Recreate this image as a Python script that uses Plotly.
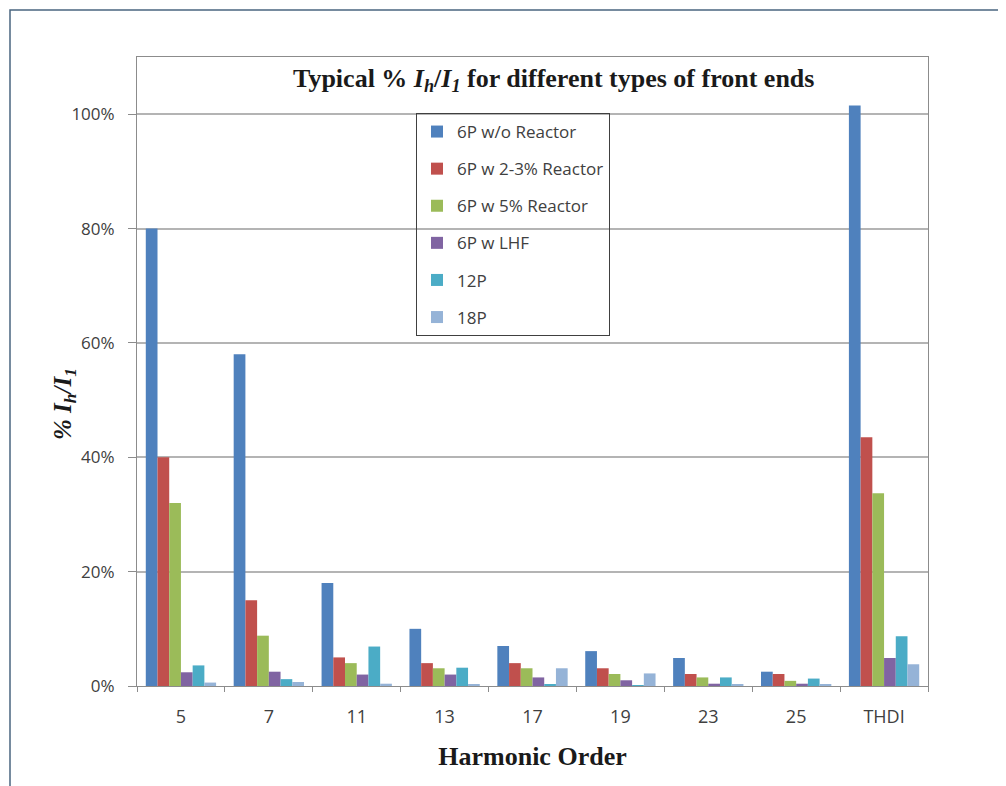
import plotly.graph_objects as go

categories = ["5", "7", "11", "13", "17", "19", "23", "25", "THDI"]
series_names = ["6P w/o Reactor", "6P w 2-3% Reactor", "6P w 5% Reactor",
                "6P w LHF", "12P", "18P"]
s_6p_noreactor = [80.0, 58.0, 18.0, 10.0, 7.0, 6.1, 4.9, 2.5, 101.5]
s_6p_23reactor = [40.0, 15.0, 5.0, 4.0, 4.0, 3.1, 2.1, 2.1, 43.5]
s_6p_5reactor = [32.0, 8.8, 4.0, 3.1, 3.1, 2.1, 1.5, 0.9, 33.7]
s_6p_lhf = [2.4, 2.5, 2.0, 2.0, 1.5, 1.0, 0.4, 0.4, 4.9]
s_12p = [3.6, 1.2, 6.9, 3.2, 0.3, 0.1, 1.5, 1.3, 8.7]
s_18p = [0.6, 0.7, 0.4, 0.3, 3.1, 2.2, 0.3, 0.2, 3.8]
y_ticks = [0, 20, 40, 60, 80, 100]
y_tick_labels = ["0%", "20%", "40%", "60%", "80%", "100%"]

series_values = [s_6p_noreactor, s_6p_23reactor, s_6p_5reactor, s_6p_lhf, s_12p, s_18p]
colors = ["#4F81BD", "#C0504D", "#9BBB59", "#8064A2", "#4BACC6", "#95B3D7"]

fig = go.Figure()
for i, (name, vals) in enumerate(zip(series_names, series_values)):
    fig.add_trace(go.Bar(x=categories, y=vals, name=name, marker_color=colors[i],
                         marker_line_width=0, legendgroup=str(i)))

# page is offset by the 8px body margin
OFF = 8
W, H = 998, 778
L, R, T, B = 129, 78, 49, 100
pw, ph = W - L - R, H - T - B

def px(xp):
    return (xp - OFF - L) / pw

def py(yp):
    return (H - B - (yp - OFF)) / ph

fig.update_layout(
    width=W, height=H,
    margin=dict(l=L, r=R, t=T, b=B),
    paper_bgcolor="white", plot_bgcolor="white",
    barmode="group", bargap=0.2, bargroupgap=0,
    font=dict(family="Open Sans", color="#404040"),
    legend=dict(
        x=px(416), y=py(113), xanchor="left", yanchor="top",
        bgcolor="rgba(0,0,0,0)", bordercolor="#404040", borderwidth=1,
        font=dict(family="Open Sans", size=17, color="#404040"),
        traceorder="grouped", tracegroupgap=12,
        itemwidth=30,
    ),
    showlegend=True,
)

fig.update_xaxes(
    type="category", showline=True, linecolor="#8c8c8c", linewidth=1, mirror=True,
    ticks="outside", tickson="boundaries", ticklen=5, tickcolor="#8c8c8c",
    ticklabelstandoff=14,
    tickfont=dict(family="Open Sans", size=18, color="#404040"),
    title=dict(text="<b>Harmonic Order</b>", standoff=20,
               font=dict(family="Liberation Serif", size=26, color="#1a1a1a")),
)
fig.update_yaxes(
    range=[0, 110], tickvals=y_ticks, ticktext=y_tick_labels,
    showgrid=True, gridcolor="#b4b4b4", gridwidth=1.5,
    showline=True, linecolor="#8c8c8c", linewidth=1, mirror=True,
    ticks="outside", ticklen=8, tickcolor="#8c8c8c",
    ticklabelstandoff=10,
    tickfont=dict(family="Open Sans", size=17, color="#404040"),
    zeroline=False,
)

fig.add_annotation(
    xref="paper", yref="paper", x=px(65), y=py(404), xanchor="center", yanchor="middle",
    showarrow=False, textangle=-90,
    text="<b><i>% I<sub>h</sub>/I<sub>1</sub></i></b>",
    font=dict(family="Liberation Serif", size=25, color="#1a1a1a"),
)

fig.add_annotation(
    xref="paper", yref="paper", x=px(553), y=py(80), xanchor="center", yanchor="middle",
    showarrow=False,
    text="<b>Typical % <i>I<sub>h</sub></i>/<i>I<sub>1</sub></i> for different types of front ends</b>",
    font=dict(family="Liberation Serif", size=26, color="#1a1a1a"),
)

fig.add_shape(type="rect", xref="paper", yref="paper",
              x0=px(10), x1=px(1004), y0=py(830), y1=py(10),
              line=dict(color="#4a6580", width=1.5), fillcolor="rgba(0,0,0,0)", layer="below")

fig.write_html("out.html")
